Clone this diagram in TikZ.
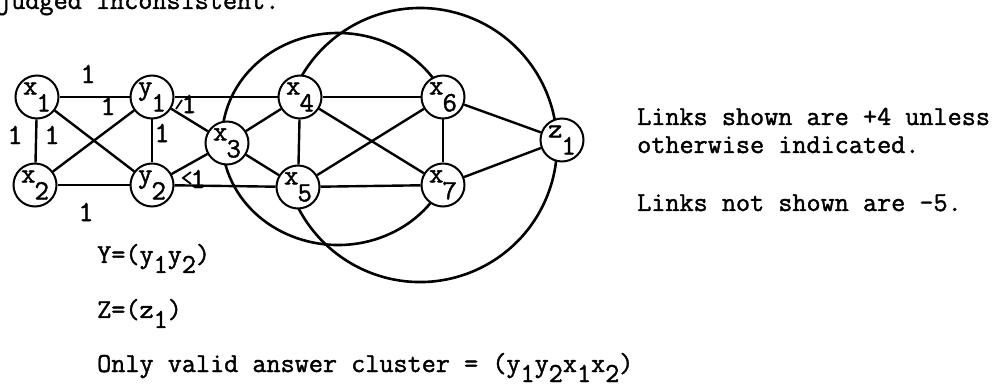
\documentclass[tikz,border=0pt]{standalone}
\usepackage{fontspec}
\newfontfamily\tw{Latin Modern Mono}[FakeBold=1.5]
\newcommand\nlab[2]{\raisebox{8pt}{#1}\kern-1pt\raisebox{-9pt}{#2}}
\newcommand\sbs[1]{\raisebox{-10pt}{#1}}
\begin{document}
\begin{tikzpicture}[x=1pt,y=1pt,
  vtx/.style={circle,draw,line width=2pt,fill=white,minimum size=43pt,inner sep=0pt,font=\tw\fontsize{28}{28}\selectfont},
  lnk/.style={line width=2.4pt},
  big/.style={line width=2.6pt},
  tick/.style={line width=1.8pt},
  lab/.style={font=\tw\fontsize{29}{29}\selectfont,inner sep=0pt},
  txt/.style={font=\tw\fontsize{27.4}{28}\selectfont,inner sep=0pt,anchor=base west}]
\useasboundingbox (0,0) rectangle (1005,-390);
% big arcs (drawn first, nodes cover them)
\draw[big] (444,-95.9) arc[start angle=24, end angle=336, x radius=116pt, y radius=106pt];
\draw[big] (293,-93.7) arc[start angle=158, end angle=-161, radius=137pt];
% nodes
\node[vtx] (x1) at (37,-97) {\nlab{x}{1}};
\node[vtx] (y1) at (152,-97) {\nlab{y}{1}};
\node[vtx] (x2) at (35,-185) {\nlab{x}{2}};
\node[vtx] (y2) at (152,-185) {\nlab{y}{2}};
\node[vtx] (x3) at (227,-143) {\nlab{x}{3}};
\node[vtx] (x4) at (300,-97) {\nlab{x}{4}};
\node[vtx] (x5) at (298,-187) {\nlab{x}{5}};
\node[vtx] (x6) at (443,-97) {\nlab{x}{6}};
\node[vtx] (x7) at (443,-185) {\nlab{x}{7}};
\node[vtx] (z1) at (562,-140) {\nlab{z}{1}};
% links
\draw[lnk] (x1)--(y1);
\draw[lnk] (y1)--(x4);
\draw[lnk] (x2)--(y2);
\draw[lnk] (y2)--(x5);
\draw[lnk] (x1)--(x2);
\draw[lnk] (y1)--(y2);
\draw[lnk] (x1)--(y2);
\draw[lnk] (x2)--(y1);
\draw[lnk] (y1)--(x3);
\draw[lnk] (y2)--(x3);
\draw[lnk] (x3)--(x4);
\draw[lnk] (x3)--(x5);
\draw[lnk] (x4)--(x5);
\draw[lnk] (x4)--(x6);
\draw[lnk] (x4)--(x7);
\draw[lnk] (x5)--(x6);
\draw[lnk] (x5)--(x7);
\draw[lnk] (x6)--(x7);
\draw[lnk] (x6)--(z1);
\draw[lnk] (x7)--(z1);
% link labels
\node[lab] (l1) at (88,-74) {1};
\node[lab] (l2) at (108,-106) {1};
\node[lab] (l3) at (15,-135) {1};
\node[lab] (l4) at (52,-135) {1};
\node[lab] (l5) at (162,-133) {1};
\node[lab] (l6) at (189,-104) {1};
\node[lab] (l7) at (198,-179) {1};
\node[lab] (l8) at (86,-212) {1};
\coordinate (t1a) at (176,-109);
\coordinate (t1b) at (182,-100);
\draw[tick] (t1a)--(t1b);
\coordinate (t2a) at (191,-172);
\coordinate (t2b) at (183,-178);
\coordinate (t2c) at (191,-184);
\draw[tick] (t2a)--(t2b)--(t2c);
% texts
\node[txt] (top) at (-3,-9) {judged inconsistent.};
\node[txt] (r1) at (637,-125) {Links shown are +4 unless};
\node[txt] (r2) at (637,-153) {otherwise indicated.};
\node[txt] (r3) at (637,-211) {Links not shown are -5.};
\node[txt] (b1) at (97,-263) {Y=(y\sbs{1}y\sbs{2})};
\node[txt] (b2) at (97,-318) {Z=(z\sbs{1})};
\node[txt] (b3) at (97,-372) {Only valid answer cluster = (y\sbs{1}y\sbs{2}x\sbs{1}x\sbs{2})};
\end{tikzpicture}
\end{document}
